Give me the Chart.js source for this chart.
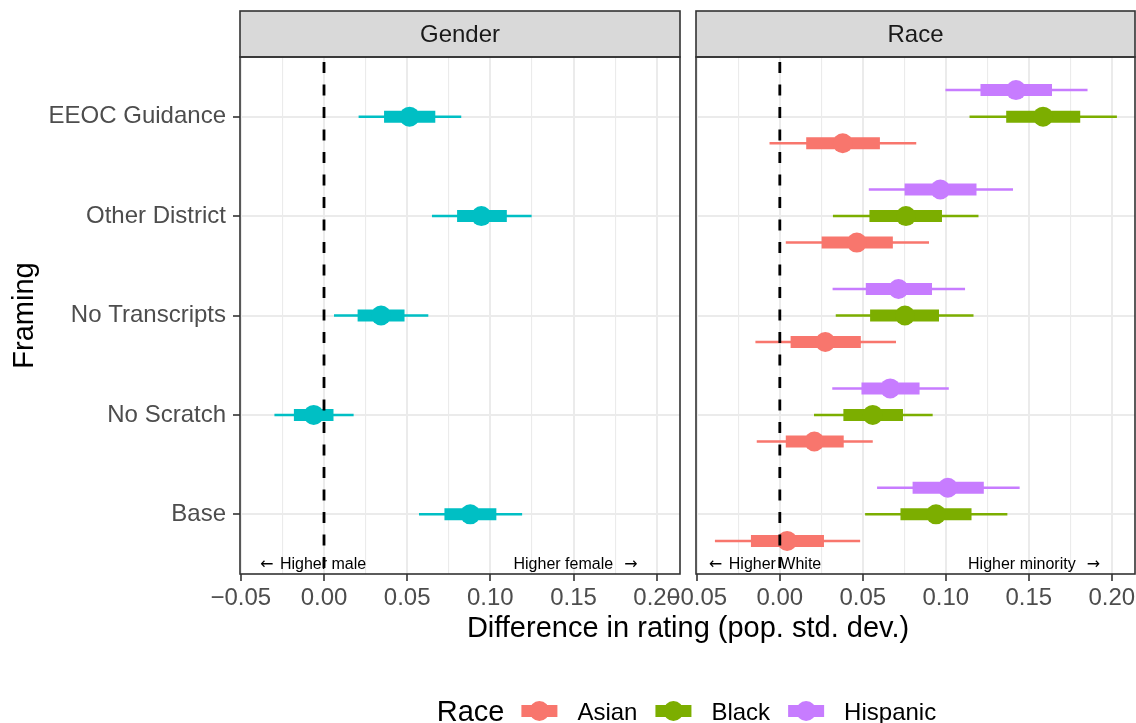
<!DOCTYPE html>
<html>
<head>
<meta charset="utf-8">
<script src="https://cdn.jsdelivr.net/npm/chart.js@4.4.1/dist/chart.umd.min.js"></script>
<style>
  html, body { margin: 0; padding: 0; background: #fff; }
  #wrap { position: relative; width: 1136px; height: 723px; overflow: hidden; background: #fff; }
  #wrap canvas { position: absolute; left: 0; top: 0; }
</style>
</head>
<body>
<div id="wrap">
  <canvas id="genderChart" width="1136" height="723"></canvas>
  <canvas id="raceChart" width="1200" height="723"></canvas>
</div>
<script>
// framings, top to bottom
const framings = ["EEOC Guidance", "Other District", "No Transcripts", "No Scratch", "Base"];
const xTicks = [-0.05, -0.025, 0, 0.025, 0.05, 0.075, 0.1, 0.125, 0.15, 0.175, 0.2];
const races = ["Asian", "Black", "Hispanic"];
const raceColors = ["#F8766D", "#7CAE00", "#C77CFF"];
const raceDodge = [0.267, 0, -0.267];
const genderColor = "#00BFC4";

// Gender panel (female vs male)
const genderEst  = [0.0514, 0.0946, 0.0343, -0.0062, 0.0879];
const genderLo66 = [0.0361, 0.0800, 0.0202, -0.0181, 0.0724];
const genderHi66 = [0.0669, 0.1099, 0.0484,  0.0057, 0.1036];
const genderLo95 = [0.0208, 0.0649, 0.0060, -0.0298, 0.0571];
const genderHi95 = [0.0825, 0.1248, 0.0627,  0.0178, 0.1191];

// Race panel
const asianEst  = [0.0379, 0.0464, 0.0274, 0.0208, 0.0044];
const asianLo66 = [0.0159, 0.0252, 0.0065, 0.0036, -0.0174];
const asianHi66 = [0.0603, 0.0681, 0.0488, 0.0385, 0.0266];
const asianLo95 = [-0.0062, 0.0036, -0.0147, -0.0139, -0.0391];
const asianHi95 = [0.0822, 0.0899, 0.0700, 0.0560, 0.0484];

const blackEst  = [0.1586, 0.0760, 0.0754, 0.0560, 0.0941];
const blackLo66 = [0.1364, 0.0540, 0.0544, 0.0383, 0.0727];
const blackHi66 = [0.1810, 0.0977, 0.0959, 0.0742, 0.1155];
const blackLo95 = [0.1143, 0.0320, 0.0337, 0.0206, 0.0514];
const blackHi95 = [0.2031, 0.1197, 0.1167, 0.0921, 0.1371];

const hispanicEst  = [0.1423, 0.0967, 0.0715, 0.0665, 0.1012];
const hispanicLo66 = [0.1209, 0.0752, 0.0518, 0.0492, 0.0800];
const hispanicHi66 = [0.1640, 0.1185, 0.0917, 0.0842, 0.1229];
const hispanicLo95 = [0.0998, 0.0536, 0.0318, 0.0316, 0.0586];
const hispanicHi95 = [0.1854, 0.1405, 0.1116, 0.1018, 0.1445];

const FONT = '"Liberation Sans", Arial, Helvetica, sans-serif';
const ARROW_FONT = '"DejaVu Sans", sans-serif';
Chart.defaults.font.family = FONT;
Chart.defaults.animation = false;

const raceSeries = [
  { est: asianEst, lo66: asianLo66, hi66: asianHi66, lo95: asianLo95, hi95: asianHi95 },
  { est: blackEst, lo66: blackLo66, hi66: blackHi66, lo95: blackLo95, hi95: blackHi95 },
  { est: hispanicEst, lo66: hispanicLo66, hi66: hispanicHi66, lo95: hispanicLo95, hi95: hispanicHi95 }
];
const genderSeries = { est: genderEst, lo66: genderLo66, hi66: genderHi66, lo95: genderLo95, hi95: genderHi95 };

function isMajor(v) {
  return Math.abs(v / 0.05 - Math.round(v / 0.05)) < 1e-6;
}
function fmt(v) {
  return (v < 0 ? "\u2212" : "") + Math.abs(v).toFixed(2);
}

// one segment per framing, separated by gaps
function segments(lo, hi, off) {
  const out = [];
  lo.forEach((v, i) => {
    out.push({ x: v, y: i + off }, { x: hi[i], y: i + off }, { x: null, y: null });
  });
  return out;
}

function seriesDatasets(s, color, off) {
  return [
    { data: s.est.map((v, i) => ({ x: v, y: i + off })), showLine: false,
      pointRadius: 10, pointBackgroundColor: color, pointBorderWidth: 0, borderColor: color, order: 1 },
    { data: segments(s.lo66, s.hi66, off), showLine: true, borderColor: color, borderWidth: 12,
      borderCapStyle: "butt", pointRadius: 0, order: 2 },
    { data: segments(s.lo95, s.hi95, off), showLine: true, borderColor: color, borderWidth: 2.5,
      borderCapStyle: "butt", pointRadius: 0, order: 3 }
  ];
}

function zeroLine() {
  return { data: [{ x: 0, y: -0.6 }, { x: 0, y: 4.6 }], showLine: true, borderColor: "#000000",
    borderWidth: 2.8, borderDash: [11, 11.5], borderDashOffset: 17.5, borderCapStyle: "butt",
    pointRadius: 0, order: 0 };
}

function xScale() {
  return {
    type: "linear", min: -0.0505, max: 0.214,
    afterBuildTicks: s => { s.ticks = xTicks.map(v => ({ value: v })); },
    afterFit: s => { s.height = 36; },
    border: { display: false },
    grid: {
      color: "#EBEBEB",
      lineWidth: c => (c.tick && isMajor(c.tick.value)) ? 2 : 1.1,
      tickColor: c => (c.tick && isMajor(c.tick.value)) ? "#333333" : "rgba(0,0,0,0)",
      tickLength: 7, tickWidth: 1.6
    },
    ticks: { autoSkip: false, maxRotation: 0, padding: 3, color: "#4D4D4D", font: { size: 24 },
      callback: v => isMajor(v) ? fmt(v) : "" }
  };
}

function yScale(showLabels) {
  return {
    type: "linear", reverse: true, min: -0.6, max: 4.6,
    afterBuildTicks: s => { s.ticks = framings.map((f, i) => ({ value: i })); },
    afterFit: s => { s.width = showLabels ? 240 : 0; },
    border: { display: false },
    grid: { color: "#EBEBEB", lineWidth: 2, drawTicks: showLabels, tickColor: "#333333", tickLength: 7, tickWidth: 1.6 },
    ticks: { display: showLabels, padding: 7, color: "#4D4D4D", font: { size: 24 },
      callback: v => framings[v] !== undefined ? framings[v] : "" },
    title: { display: showLabels, text: "Framing", color: "#000000", font: { size: 29 }, padding: { top: 8, bottom: 0 } }
  };
}

// strip header, panel border and the direction notes
const panelDecor = {
  id: "panelDecor",
  beforeDatasetsDraw(chart, args, opts) {
    const ctx = chart.ctx;
    const xs = chart.scales.x;
    const x0 = xs.getPixelForValue(opts.lowAt);
    const x1 = xs.getPixelForValue(opts.highAt);
    ctx.save();
    ctx.fillStyle = "#000000";
    ctx.textBaseline = "alphabetic";
    ctx.textAlign = "left";
    ctx.font = "16px " + ARROW_FONT;
    ctx.fillText("\u2190", x0, 568.5);
    ctx.font = "16px " + FONT;
    ctx.fillText(opts.low, x0 + 20, 568.5);
    ctx.textAlign = "right";
    ctx.fillText(opts.high, x1 - 24.5, 568.5);
    ctx.font = "16px " + ARROW_FONT;
    ctx.fillText("\u2192", x1, 568.5);
    ctx.restore();
  },
  afterDraw(chart, args, opts) {
    const ctx = chart.ctx;
    const a = chart.chartArea;
    ctx.save();
    ctx.fillStyle = "#D9D9D9";
    ctx.fillRect(a.left, 11, a.right - a.left, a.top - 11);
    ctx.strokeStyle = "#333333";
    ctx.lineWidth = 1.6;
    ctx.strokeRect(a.left, 11, a.right - a.left, a.top - 11);
    ctx.strokeRect(a.left, a.top, a.right - a.left, a.bottom - a.top);
    ctx.fillStyle = "#1A1A1A";
    ctx.font = "24px " + FONT;
    ctx.textAlign = "center";
    ctx.textBaseline = "alphabetic";
    ctx.fillText(opts.strip, (a.left + a.right) / 2, 42);

    if (opts.shared) {
      // shared x title
      ctx.fillStyle = "#000000";
      ctx.font = "29px " + FONT;
      ctx.fillText("Difference in rating (pop. std. dev.)", 688, 637);
      // legend
      let x = 436.7;
      ctx.textAlign = "left";
      ctx.fillText("Race", x, 721);
      x += ctx.measureText("Race").width + 17;
      ctx.font = "24px " + FONT;
      races.forEach((r, i) => {
        ctx.fillStyle = raceColors[i];
        ctx.fillRect(x, 705, 36, 12);
        ctx.beginPath();
        ctx.arc(x + 18, 711, 10, 0, Math.PI * 2);
        ctx.fill();
        ctx.fillStyle = "#000000";
        ctx.fillText(r, x + 56, 719.5);
        x += 56 + ctx.measureText(r).width + 18;
      });
    }
    ctx.restore();
  }
};

const commonPlugins = { legend: { display: false }, tooltip: { enabled: false } };

new Chart(document.getElementById("genderChart"), {
  type: "scatter",
  data: { datasets: [zeroLine()].concat(seriesDatasets(genderSeries, genderColor, 0)) },
  options: {
    responsive: false,
    layout: { padding: { left: 0, top: 57, right: 456, bottom: 113 } },
    scales: { x: xScale(), y: yScale(true) },
    plugins: Object.assign({
      panelDecor: { strip: "Gender", low: "Higher male", lowAt: -0.0385, high: "Higher female", highAt: 0.1885, shared: false }
    }, commonPlugins)
  },
  plugins: [panelDecor]
});

let raceDatasets = [zeroLine()];
raceSeries.forEach((s, i) => {
  raceDatasets = raceDatasets.concat(seriesDatasets(s, raceColors[i], raceDodge[i]));
});

// canvas is wider than the page so the last tick label does not squeeze the panel
new Chart(document.getElementById("raceChart"), {
  type: "scatter",
  data: { datasets: raceDatasets },
  options: {
    responsive: false,
    layout: { padding: { left: 696, top: 57, right: 65, bottom: 113 } },
    scales: { x: xScale(), y: yScale(false) },
    plugins: Object.assign({
      panelDecor: { strip: "Race", low: "Higher White", lowAt: -0.0428, high: "Higher minority", highAt: 0.193, shared: true }
    }, commonPlugins)
  },
  plugins: [panelDecor]
});
</script>
</body>
</html>
